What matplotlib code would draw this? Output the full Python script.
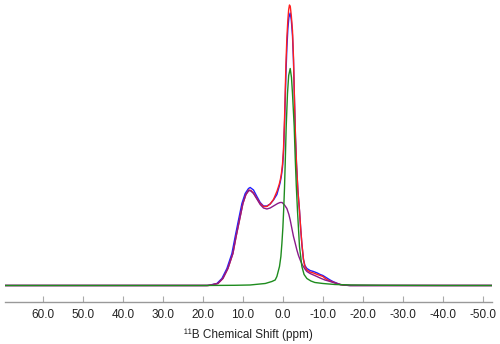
import matplotlib
matplotlib.use("Agg")
import matplotlib.pyplot as plt

plt.rcParams['font.family'] = ['Liberation Sans', 'DejaVu Sans']
plt.rcParams['axes.unicode_minus'] = False

# chemical shift (ppm) and intensity (a.u.)
ppm_blue = [69.4, 60, 50, 40, 30, 22, 19.0, 18.18, 16.5, 15.25, 14.0, 12.75, 11.93, 11.1,
            10.25, 9.43, 8.6, 8.18, 7.35, 6.5, 5.68, 4.85, 4.0, 3.18, 2.35, 1.5, 0.93,
            0.68, 0.4, 0.1, -0.15, -0.4, -0.58, -0.75, -1.0, -1.25, -1.5, -1.83, -2.1,
            -2.4, -2.65, -2.9, -3.15, -3.4, -3.75, -4.15, -4.45, -4.75, -5.15, -5.5,
            -6.0, -6.8, -7.65, -8.6, -9.33, -10.0, -10.6, -11.2, -11.8, -12.5, -13.1,
            -14.3, -15.5, -16.8, -25, -35, -45, -52.3]
int_blue = [0, 0, 0, 0, 0, 0, 0, 0.5, 2, 7, 17, 32, 49, 65.5,
            82, 92, 97, 98, 95.5, 89, 83, 79.5, 79.5, 81.5, 85.5, 91, 99,
            103, 109, 118, 132, 160, 185, 210, 238, 257, 268, 272.5, 266,
            250, 225, 185, 148, 122, 95, 75, 57, 41, 26, 20,
            17, 15, 14, 12.5, 11, 10, 8.5, 7, 5.5, 4, 3,
            1, 0.3, 0, 0, 0, 0, 0]

ppm_red = [69.4, 60, 50, 40, 30, 22, 18.7, 17.9, 16.25, 15.0, 13.75, 12.5, 11.7, 10.85,
           10.0, 9.25, 8.5, 8.0, 7.35, 6.5, 5.68, 4.85, 4.0, 3.18, 2.35, 1.5, 0.93,
           0.68, 0.4, 0.1, -0.15, -0.4, -0.58, -0.75, -1.0, -1.25, -1.45, -1.65, -1.85,
           -2.1, -2.4, -2.65, -2.9, -3.15, -3.4, -3.75, -4.15, -4.45, -4.75, -5.15, -5.5,
           -6.0, -6.8, -7.65, -8.6, -9.33, -10.0, -10.6, -11.2, -11.8, -12.5, -13.1,
           -14.3, -15.5, -16.8, -25, -35, -45, -52.3]
int_red = [0, 0, 0, 0, 0, 0, 0, 0.5, 2, 7, 17, 32, 49, 65.5,
           82, 91, 95.5, 95, 92.5, 87, 82, 79, 79, 81.5, 86, 94, 101,
           105, 111, 121, 136, 165, 192, 220, 248, 266, 276, 280.5, 279,
           270, 255, 228, 185, 148, 122, 95, 75, 57, 42, 26, 19,
           15.5, 13.5, 12.5, 11, 10, 9, 7, 5.5, 4.5, 3.5, 2.5,
           1, 0.3, 0, 0, 0, 0, 0]

ppm_purple = [69.4, 60, 50, 40, 30, 22, 18.7, 17.9, 16.25, 15.0, 13.75, 12.5, 11.7, 10.85,
              10.0, 9.25, 8.5, 8.0, 7.35, 6.5, 5.68, 4.85, 4.0, 3.18, 2.35, 1.3, 0.7,
              0.2, -0.4, -1.0, -1.5, -1.83, -2.25, -2.65, -3.1, -3.5, -3.9, -4.33,
              -4.75, -5.15, -5.6, -6.0, -6.8, -7.65, -8.5, -9.3, -10.5, -11.8, -13.0,
              -14.3, -15.5, -16.8, -25, -35, -45, -52.3]
int_purple = [0, 0, 0, 0, 0, 0, 0, 0.5, 2, 7, 17, 32, 49, 65.5,
              82, 91, 95, 94.5, 92, 86.5, 81, 77.5, 76.5, 77.5, 79.5, 82, 83,
              83, 80.5, 77, 71, 65.5, 57, 49, 42, 35.5, 30, 25.5,
              21.5, 18.8, 16, 14, 12, 10.5, 9, 7.5, 5.5, 4, 2.5,
              1, 0.3, 0, 0, 0, 0, 0]

ppm_green = [69.4, 60, 50, 40, 30, 20, 12, 8.2, 5.7, 4.4, 2.75, 1.93, 1.5, 0.85, 0.5,
             0.25, 0.0, -0.2, -0.4, -0.58, -0.83, -1.15, -1.45, -1.83, -2.15, -2.4,
             -2.83, -3.08, -3.35, -3.65, -4.15, -4.75, -5.3, -6.0, -7.0, -8.0, -10.0,
             -13.0, -17.0, -25, -40, -52.3]
int_green = [0, 0, 0, 0, 0, 0, 0.2, 0.5, 1.5, 2, 4, 5.5, 9, 19, 29,
             42, 58, 76, 97, 122, 159, 192, 210, 217, 208, 192,
             159, 128, 100, 75, 39, 19, 11, 7, 4.5, 3, 2,
             1, 0.5, 0.2, 0, 0]

ticks = [60, 50, 40, 30, 20, 10, 0, -10, -20, -30, -40, -50]
tick_labels = ['60.0', '50.0', '40.0', '30.0', '20.0', '10.0', '0.0',
               '-10.0', '-20.0', '-30.0', '-40.0', '-50.0']

fig = plt.figure(figsize=(5, 3.44), dpi=100)
ax = fig.add_axes([0.01, 0.123, 0.974, 0.877])

ax.plot(ppm_blue, int_blue, color='#1f1fff', lw=1.0)
ax.plot(ppm_red, int_red, color='#ff1f1f', lw=1.0)
ax.plot(ppm_purple, int_purple, color='#8a1a8a', lw=1.0)
ax.plot(ppm_green, int_green, color='#1e8c1e', lw=1.0)

ax.set_xlim(69.5, -52.3)
ax.set_ylim(-16.2, 285.5)

for s in ['left', 'top', 'right']:
    ax.spines[s].set_visible(False)
ax.spines['bottom'].set_color('#999999')
ax.spines['bottom'].set_linewidth(1.0)
ax.set_yticks([])
ax.set_xticks(ticks)
ax.set_xticklabels(tick_labels)
ax.tick_params(axis='x', direction='in', length=4, width=0.8, color='#aaaaaa',
               labelsize=8.5, pad=5, labelcolor='#222222')
ax.set_xlabel('\u00b9\u00b9B Chemical Shift (ppm)', fontsize=8.5, color='#222222', labelpad=6)

fig.savefig('out.png', dpi=100)
